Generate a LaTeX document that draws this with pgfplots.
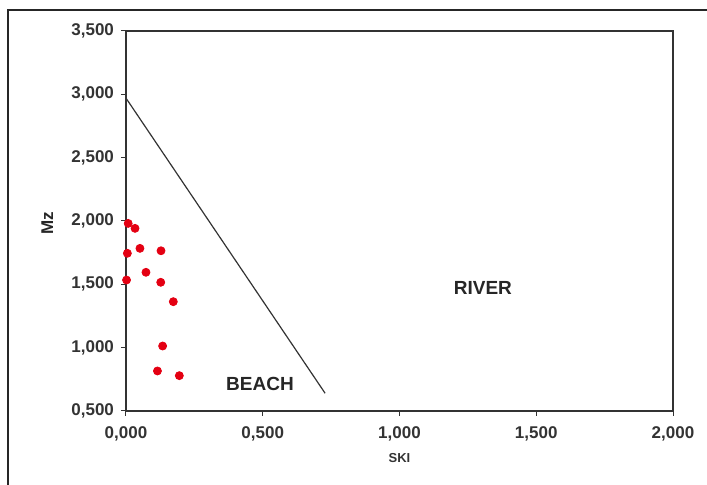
\documentclass[border=0pt]{standalone}
\usepackage{fontspec}
\setmainfont{Liberation Sans}
\usepackage{pgfplots}
\pgfplotsset{compat=1.18}
\definecolor{ptred}{RGB}{228,0,18}
\begin{document}
\begin{tikzpicture}[x=0.5pt,y=0.5pt]
% page area and outer frame
\useasboundingbox (0,0) rectangle (707,485);
\draw[line width=0.8pt,black!85] (8,-10) -- (8,475) -- (720,475);
\coordinate (O) at (126,74);
\begin{axis}[
  at={(O)}, anchor=origin,
  scale only axis, width=273.5pt, height=190pt,
  xmin=0, xmax=2, ymin=0.5, ymax=3.5,
  xtick={0,0.5,1,1.5,2},
  ytick={0.5,1,1.5,2,2.5,3,3.5},
  xtick pos=left, ytick pos=left,
  tick align=outside, major tick length=2.5pt,
  tick style={black!80, line width=0.5pt},
  axis line style={black!80, line width=0.6pt},
  /pgf/number format/.cd, fixed, fixed zerofill, precision=3, use comma, 1000 sep={}, assume math mode=true,
  /pgfplots/.cd,
  ticklabel style={font=\fontsize{8.5}{10}\selectfont\bfseries, text=black!80},
  xticklabel style={yshift=-2pt},
  xlabel={SKI}, ylabel={Mz},
  xlabel style={font=\fontsize{6.5}{8}\selectfont\bfseries, text=black!80,
    at={(axis description cs:0.5,-0.124)}, anchor=center},
  ylabel style={font=\fontsize{8.5}{10}\selectfont\bfseries, text=black!85,
    at={(axis description cs:-0.144,0.495)}, anchor=center},
  clip=false,
]
% samples
\addplot[only marks, mark=*, mark size=2pt, mark options={fill=ptred, draw=ptred}] coordinates {
  (0.008,1.981) (0.033,1.942) (0.051,1.784) (0.128,1.765) (0.005,1.745)
  (0.073,1.595) (0.127,1.516) (0.002,1.534) (0.173,1.363) (0.134,1.013)
  (0.115,0.816) (0.195,0.779)
};
% discriminant line
\addplot[black!80, line width=0.6pt] coordinates {(0,2.97) (0.728,0.64)};
\node[font=\fontsize{9.5}{11}\selectfont\bfseries, text=black!85] at (axis cs:0.49,0.713) {BEACH};
\node[font=\fontsize{9.5}{11}\selectfont\bfseries, text=black!85] at (axis cs:1.305,1.471) {RIVER};
\end{axis}
\end{tikzpicture}
\end{document}
